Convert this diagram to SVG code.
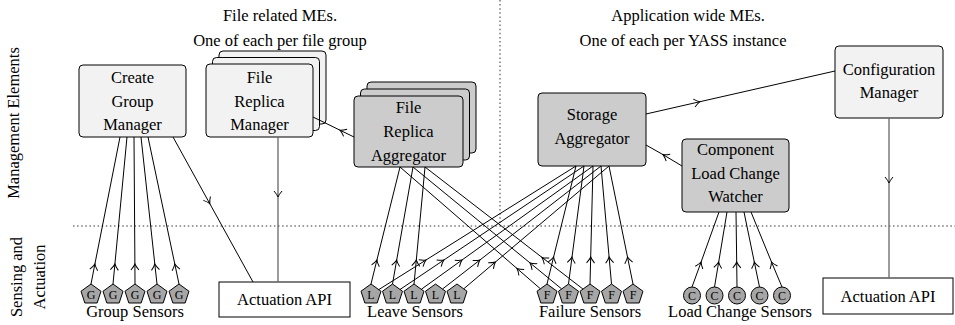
<svg xmlns="http://www.w3.org/2000/svg" width="955" height="325" viewBox="0 0 955 325" font-family="'Liberation Serif', 'DejaVu Serif', serif">
<style>
text{font-family:'Liberation Serif','DejaVu Serif',serif;font-size:16.5px;fill:#000;text-anchor:middle}
.sl{font-size:12px}
.light{fill:#f2f2f2;stroke:#000;stroke-width:1}
.dark{fill:#cccccc;stroke:#000;stroke-width:1}
.api{fill:#fff;stroke:#000;stroke-width:1}
.sens{fill:#a6a6a6;stroke:#000;stroke-width:1}
.c{fill:none;stroke:#000;stroke-width:1;marker-mid:url(#arr)}
.g{fill:none;stroke:#666;stroke-width:1.3;marker-mid:url(#arr)}
.dot{stroke:#9a9a9a;stroke-width:2;stroke-dasharray:1.5 2.6;fill:none}
</style>
<defs>
<marker id="arr" viewBox="-8 -6 10 12" refX="0" refY="0" markerWidth="10" markerHeight="12" markerUnits="userSpaceOnUse" orient="auto">
<path d="M-6,-4 Q-2.5,-1 0,0 Q-2.5,1 -6,4" fill="none" stroke="#000" stroke-width="1"/>
</marker>
<polygon id="pent" points="0,-10.5 9.99,-3.24 6.17,8.49 -6.17,8.49 -9.99,-3.24"/>
</defs>

<g id="guides">
<line class="dot" x1="73" y1="226" x2="955" y2="226"/>
<line class="dot" x1="500" y1="0" x2="500" y2="225"/>
</g>

<g id="labels">
<text transform="translate(19,123) rotate(-90)">Management Elements</text>
<text transform="translate(22,277) rotate(-90)">Sensing and</text>
<text transform="translate(45,277) rotate(-90)">Actuation</text>
<text x="280" y="21">File related MEs.</text>
<text x="280" y="46">One of each per file group</text>
<text x="688" y="21">Application wide MEs.</text>
<text x="683" y="46">One of each per YASS instance</text>
</g>

<g id="create-group-manager">
<rect class="light" x="79" y="65" width="107" height="72" rx="4"/>
<text x="132.5" y="83">Create</text>
<text x="132.5" y="106.5">Group</text>
<text x="132.5" y="130">Manager</text>
</g>

<g id="file-replica-manager">
<rect class="light" x="219" y="51" width="107" height="73" rx="4"/>
<rect class="light" x="212.5" y="57.5" width="107" height="73" rx="4"/>
<rect class="light" x="206" y="64" width="107" height="73" rx="4"/>
<text x="259.5" y="83">File</text>
<text x="259.5" y="106.5">Replica</text>
<text x="259.5" y="130">Manager</text>
</g>

<g id="file-replica-aggregator">
<rect class="dark" x="367" y="82" width="109" height="71" rx="4"/>
<rect class="dark" x="360.5" y="89" width="109" height="71" rx="4"/>
<rect class="dark" x="354" y="96" width="109" height="71" rx="4"/>
<text x="408.5" y="113">File</text>
<text x="408.5" y="137">Replica</text>
<text x="408.5" y="161">Aggregator</text>
</g>

<g id="storage-aggregator">
<rect class="dark" x="538" y="93" width="108" height="73" rx="4"/>
<text x="592" y="119.5">Storage</text>
<text x="592" y="144">Aggregator</text>
</g>

<g id="configuration-manager">
<rect class="light" x="835" y="46" width="108" height="72" rx="4"/>
<text x="889" y="74.5">Configuration</text>
<text x="889" y="98">Manager</text>
</g>

<g id="component-load-change-watcher">
<rect class="dark" x="682" y="139" width="107" height="73" rx="4"/>
<text x="735.5" y="154.5">Component</text>
<text x="735.5" y="178.5">Load Change</text>
<text x="735.5" y="202">Watcher</text>
</g>

<g id="actuation-api-left">
<rect class="api" x="219" y="282" width="131" height="35"/>
<text x="284.5" y="304.5">Actuation API</text>
</g>

<g id="actuation-api-right">
<rect class="api" x="823" y="278" width="130" height="36"/>
<text x="888" y="301.5">Actuation API</text>
</g>

<g id="group-sensors">
<use href="#pent" class="sens" x="91" y="294.5"/>
<use href="#pent" class="sens" x="113" y="294.5"/>
<use href="#pent" class="sens" x="135" y="294.5"/>
<use href="#pent" class="sens" x="157" y="294.5"/>
<use href="#pent" class="sens" x="179" y="294.5"/>
<text class="sl" x="91" y="298.5">G</text>
<text class="sl" x="113" y="298.5">G</text>
<text class="sl" x="135" y="298.5">G</text>
<text class="sl" x="157" y="298.5">G</text>
<text class="sl" x="179" y="298.5">G</text>
<text x="135" y="316.5">Group Sensors</text>
</g>

<g id="leave-sensors">
<use href="#pent" class="sens" x="371" y="294.5"/>
<use href="#pent" class="sens" x="392.5" y="294.5"/>
<use href="#pent" class="sens" x="414" y="294.5"/>
<use href="#pent" class="sens" x="435.5" y="294.5"/>
<use href="#pent" class="sens" x="457" y="294.5"/>
<text class="sl" x="371" y="298.5">L</text>
<text class="sl" x="392.5" y="298.5">L</text>
<text class="sl" x="414" y="298.5">L</text>
<text class="sl" x="435.5" y="298.5">L</text>
<text class="sl" x="457" y="298.5">L</text>
<text x="415" y="316.5">Leave Sensors</text>
</g>

<g id="failure-sensors">
<use href="#pent" class="sens" x="547" y="294.5"/>
<use href="#pent" class="sens" x="568.5" y="294.5"/>
<use href="#pent" class="sens" x="590" y="294.5"/>
<use href="#pent" class="sens" x="611.5" y="294.5"/>
<use href="#pent" class="sens" x="633" y="294.5"/>
<text class="sl" x="547" y="298.5">F</text>
<text class="sl" x="568.5" y="298.5">F</text>
<text class="sl" x="590" y="298.5">F</text>
<text class="sl" x="611.5" y="298.5">F</text>
<text class="sl" x="633" y="298.5">F</text>
<text x="590" y="316.5">Failure Sensors</text>
</g>

<g id="load-change-sensors">
<circle class="sens" cx="692" cy="295.5" r="8.5"/>
<circle class="sens" cx="714.5" cy="295.5" r="8.5"/>
<circle class="sens" cx="737" cy="295.5" r="8.5"/>
<circle class="sens" cx="759.5" cy="295.5" r="8.5"/>
<circle class="sens" cx="782" cy="295.5" r="8.5"/>
<text class="sl" x="692" y="299.5">C</text>
<text class="sl" x="714.5" y="299.5">C</text>
<text class="sl" x="737" y="299.5">C</text>
<text class="sl" x="759.5" y="299.5">C</text>
<text class="sl" x="782" y="299.5">C</text>
<text x="740" y="316.5">Load Change Sensors</text>
</g>

<g id="connectors">
<polyline class="c" points="91,284 94.9,264 120,137"/>
<polyline class="c" points="113,284 114.9,264 127,137"/>
<polyline class="c" points="135,284 134.9,264 134,137"/>
<polyline class="c" points="157,284 154.8,264 141,137"/>
<polyline class="c" points="179,284 174.8,264 148,137"/>
<polyline class="c" points="173,137 209.8,203.7 253,282"/>
<polyline class="g" points="278,137 278,197 278,282"/>
<polyline class="c" points="354,137 340,130.2 313,117"/>
<polyline class="c" points="646,114 700,101.7 835,71"/>
<polyline class="c" points="682,166 663,154.6 646,145"/>
<polyline class="g" points="889,118 889,183 889,278"/>
<polyline class="c" points="371,284 376.9,260 400,167"/>
<polyline class="c" points="392.5,284 396.7,260 413,167"/>
<polyline class="c" points="414,284 416.3,260 425,167"/>
<polyline class="c" points="378.6,289.7 426,260 576,166"/>
<polyline class="c" points="400,289.5 443.9,260 584,166"/>
<polyline class="c" points="421.3,289.3 462,260 593,166"/>
<polyline class="c" points="442.7,288.9 479.9,260 601,166"/>
<polyline class="c" points="463.9,288.7 495.4,262 609,166"/>
<polyline class="c" points="540.2,288.6 517,268.5 400,167"/>
<polyline class="c" points="561.5,288.8 530,262.9 413,167"/>
<polyline class="c" points="582.9,289 542,257.4 425,167"/>
<polyline class="c" points="547,284 553.6,257 576,166"/>
<polyline class="c" points="568.5,284 572,257 584,166"/>
<polyline class="c" points="590,284 590.7,257 593,166"/>
<polyline class="c" points="611.5,284 609.1,257 601,166"/>
<polyline class="c" points="633,284 627.5,257 609,166"/>
<polyline class="c" points="692,287 701.1,262 719,212"/>
<polyline class="c" points="714.5,287 718.7,262 727,212"/>
<polyline class="c" points="737,287 736.7,262 736,212"/>
<polyline class="c" points="759.5,287 754.3,262 744,212"/>
<polyline class="c" points="782,287 771.5,262 751,212"/>
</g>
</svg>
